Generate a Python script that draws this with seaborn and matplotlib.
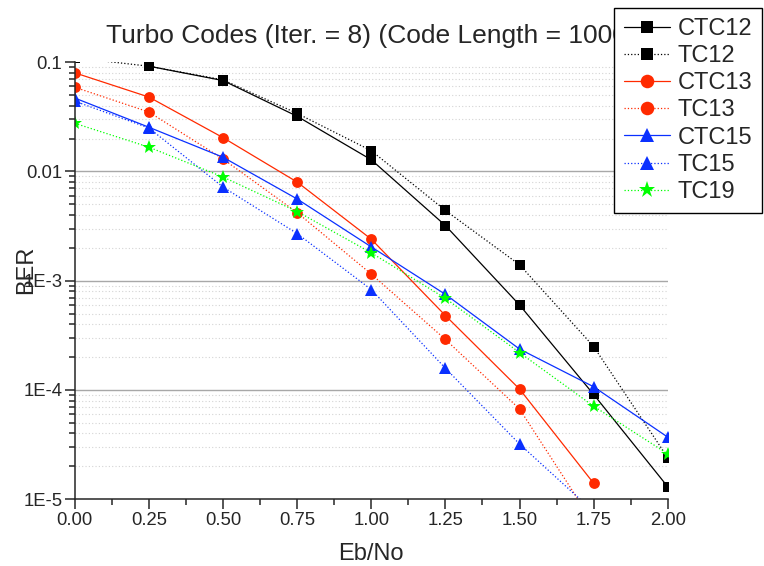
import numpy as np
import pandas as pd
import matplotlib
matplotlib.use("Agg")
import matplotlib.pyplot as plt
import seaborn as sns
from matplotlib.ticker import FixedLocator, FixedFormatter, LogLocator, NullFormatter, MultipleLocator

# Eb/No (dB) and BER per scheme
eb_no = [0.0, 0.25, 0.5, 0.75, 1.0, 1.25, 1.5, 1.75, 2.0]
ctc12 = [np.nan, 0.092, 0.068, 0.032, 0.0128, 0.0032, 6.0e-4, 9.1e-5, 1.3e-5]
tc12 = [0.11, 0.092, 0.069, 0.034, 0.0155, 0.0044, 1.4e-3, 2.5e-4, 2.4e-5]
ctc13 = [0.080, 0.048, 0.0204, 0.0080, 0.0024, 4.8e-4, 1.02e-4, 1.4e-5, np.nan]
tc13 = [0.059, 0.035, 0.013, 0.0042, 1.15e-3, 2.9e-4, 6.7e-5, 6.0e-6, np.nan]
ctc15 = [0.047, 0.0254, 0.0135, 0.0056, 2.04e-3, 7.5e-4, 2.37e-4, 1.07e-4, 3.7e-5]
tc15 = [0.044, 0.025, 0.0072, 0.0027, 8.3e-4, 1.58e-4, 3.2e-5, 7.7e-6, np.nan]
tc19 = [0.0276, 0.0167, 0.0089, 0.0043, 1.8e-3, 6.9e-4, 2.2e-4, 7.1e-5, 2.6e-5]

series_names = ["CTC12", "TC12", "CTC13", "TC13", "CTC15", "TC15", "TC19"]
series_values = [ctc12, tc12, ctc13, tc13, ctc15, tc15, tc19]

y_ticks = [1e-5, 1e-4, 1e-3, 1e-2, 1e-1]
y_tick_labels = ["1E-5", "1E-4", "1E-3", "0.01", "0.1"]

RED = "#ff2a00"
BLUE = "#0a30ff"
GREEN = "#00ff00"
styles = {
    "CTC12": dict(color="black", ls="-", marker="s", ms=6.8),
    "TC12": dict(color="black", ls=":", marker="s", ms=6.8),
    "CTC13": dict(color=RED, ls="-", marker="o", ms=7.8),
    "TC13": dict(color=RED, ls=":", marker="o", ms=7.8),
    "CTC15": dict(color=BLUE, ls="-", marker="^", ms=8.5),
    "TC15": dict(color=BLUE, ls=":", marker="^", ms=8.5),
    "TC19": dict(color=GREEN, ls=":", marker="*", ms=10),
}

sns.set_style("white")
plt.rcParams.update({
    "font.family": ["Liberation Sans", "DejaVu Sans"],
    "font.size": 13.3,
    "axes.linewidth": 1.1,
})


def main():
    fig = plt.figure(figsize=(7.64, 5.66), dpi=100)
    ax = fig.add_axes([0.098, 0.118, 0.776, 0.772])

    for name, vals in zip(series_names, series_values):
        df = pd.DataFrame({"Eb/No": eb_no, "BER": vals}).dropna()
        st = styles[name]
        sns.lineplot(data=df, x="Eb/No", y="BER", ax=ax, label=name,
                     color=st["color"], linestyle=st["ls"], linewidth=0.9,
                     marker=st["marker"], markersize=st["ms"],
                     markeredgecolor=st["color"], markeredgewidth=0,
                     errorbar=None, sort=False)

    ax.set_yscale("log")
    ax.set_xlim(0, 2)
    ax.set_ylim(1e-5, 0.1)

    # grid: solid grey at decades, dotted light grey in between
    ax.yaxis.set_major_locator(FixedLocator(y_ticks))
    ax.yaxis.set_major_formatter(FixedFormatter(y_tick_labels))
    ax.yaxis.set_minor_locator(LogLocator(base=10, subs=np.arange(2, 10)))
    ax.yaxis.set_minor_formatter(NullFormatter())
    ax.grid(axis="y", which="minor", color="#d4d4d4", linestyle=(0, (1, 2)), linewidth=0.8)
    for yv in y_ticks[1:-1]:
        ax.axhline(yv, color="#a8a8a8", linewidth=1.0, zorder=0.5)

    ax.xaxis.set_major_locator(MultipleLocator(0.25))
    ax.xaxis.set_minor_locator(MultipleLocator(0.125))
    ax.xaxis.set_major_formatter(plt.FormatStrFormatter("%.2f"))

    ax.tick_params(which="major", direction="out", length=7, width=1.1,
                   labelsize=13.3, left=True, bottom=True, pad=2)
    ax.tick_params(which="minor", direction="out", length=4, width=1.1,
                   left=True, bottom=True)

    sns.despine(ax=ax, top=True, right=True)

    ax.set_title("Turbo Codes (Iter. = 8) (Code Length = 1000)", fontsize=19, pad=14)
    ax.set_xlabel("Eb/No", fontsize=17, labelpad=10)
    ax.set_ylabel("BER", fontsize=17)
    ax.yaxis.set_label_coords(-0.064, 0.524)

    handles, labels = ax.get_legend_handles_labels()
    ax.get_legend().remove()
    leg = fig.legend(handles, labels, loc="upper left", bbox_to_anchor=(0.804, 0.986),
                     fontsize=17, frameon=True, fancybox=False, framealpha=1,
                     edgecolor="black", borderpad=0.42, labelspacing=0.22,
                     handlelength=1.95, handletextpad=0.3, borderaxespad=0,
                     markerscale=1.25)
    leg.get_frame().set_linewidth(1.0)

    fig.savefig("out.png", dpi=100)
    plt.close(fig)


if __name__ == "__main__":
    main()
